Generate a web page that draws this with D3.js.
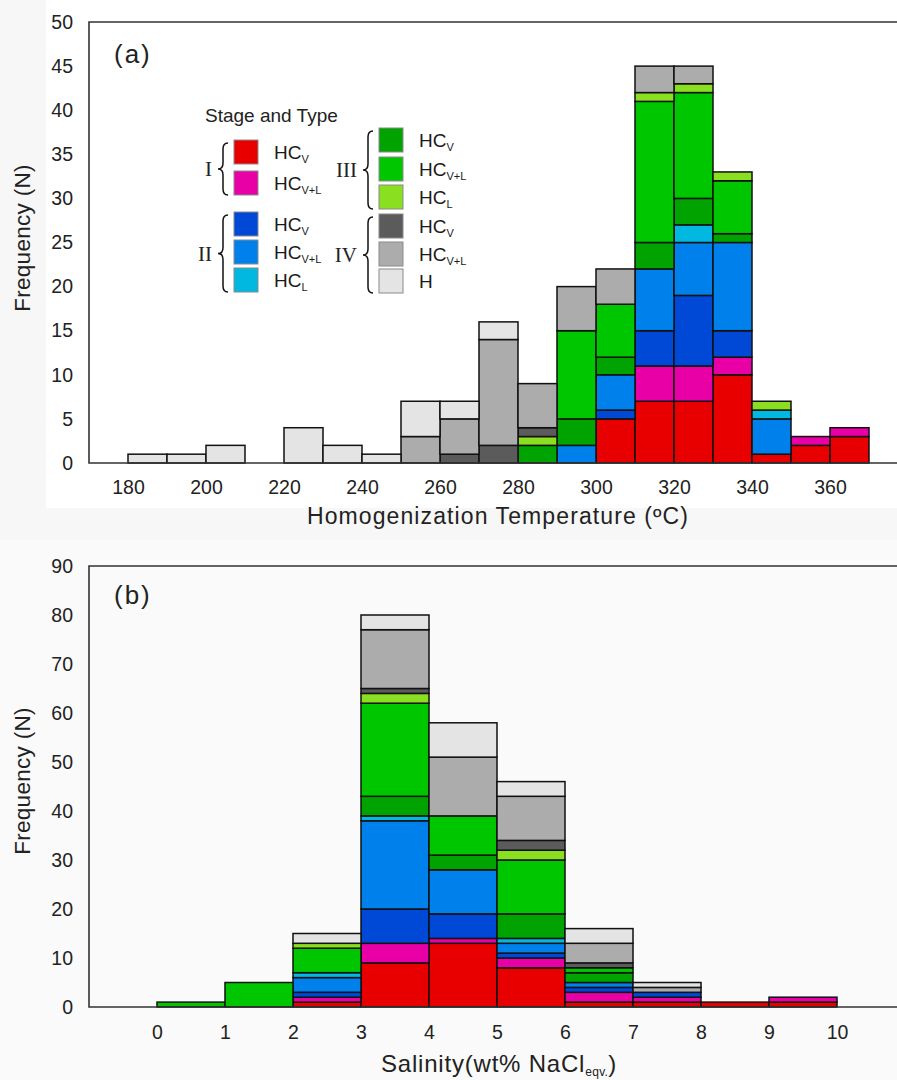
<!DOCTYPE html>
<html><head><meta charset="utf-8">
<script src="https://cdn.jsdelivr.net/npm/d3@7"></script>
<style>
html,body{margin:0;padding:0;background:#f7f7f7;}
svg{display:block;font-family:"Liberation Sans",Arial,sans-serif;}
</style></head><body>
<svg id="chart" width="897" height="1080"></svg>
<script>
// ---------- data ----------
const seriesKeys   = ["I_HCv","I_HCvL","II_HCv","II_HCvL","II_HCL","III_HCv","III_HCvL","III_HCL","IV_HCv","IV_HCvL","IV_H"];
const seriesStage  = ["I","I","II","II","II","III","III","III","IV","IV","IV"];
const seriesType   = ["V","V+L","V","V+L","L","V","V+L","L","V","V+L","H"];
const seriesColors = ["#e80000","#e800a6","#0049d6","#0080ea","#00b8e0","#00a300","#00c600","#8ae020","#5b5b5b","#acacac","#e4e4e4"];

// (a) homogenization temperature, bins of 10 °C (start value)
const tempBins = [180,190,200,210,220,230,240,250,260,270,280,290,300,310,320,330,340,350,360];
const tempBinWidth = 10;
const temp_I_HCv    = [0,0,0,0,0,0,0,0,0,0,0,0,5,7,7,10,1,2,3];
const temp_I_HCvL   = [0,0,0,0,0,0,0,0,0,0,0,0,0,4,4,2,0,1,1];
const temp_II_HCv   = [0,0,0,0,0,0,0,0,0,0,0,0,1,4,8,3,0,0,0];
const temp_II_HCvL  = [0,0,0,0,0,0,0,0,0,0,0,2,4,7,6,10,4,0,0];
const temp_II_HCL   = [0,0,0,0,0,0,0,0,0,0,0,0,0,0,2,0,1,0,0];
const temp_III_HCv  = [0,0,0,0,0,0,0,0,0,0,2,3,2,3,3,1,0,0,0];
const temp_III_HCvL = [0,0,0,0,0,0,0,0,0,0,0,10,6,16,12,6,0,0,0];
const temp_III_HCL  = [0,0,0,0,0,0,0,0,0,0,1,0,0,1,1,1,1,0,0];
const temp_IV_HCv   = [0,0,0,0,0,0,0,0,1,2,1,0,0,0,0,0,0,0,0];
const temp_IV_HCvL  = [0,0,0,0,0,0,0,3,4,12,5,5,4,3,2,0,0,0,0];
const temp_IV_H     = [1,1,2,0,4,2,1,4,2,2,0,0,0,0,0,0,0,0,0];
const tempTicks = [180,200,220,240,260,280,300,320,340,360];
const tempYTicks = [0,5,10,15,20,25,30,35,40,45,50];

// (b) salinity, bins of 1 wt% (start value)
const salBins = [0,1,2,3,4,5,6,7,8,9];
const salBinWidth = 1;
const sal_I_HCv    = [0,0,1,9,13,8,1,1,1,1];
const sal_I_HCvL   = [0,0,1,4,1,2,2,1,0,1];
const sal_II_HCv   = [0,0,1,7,5,1,1,1,0,0];
const sal_II_HCvL  = [0,0,3,18,9,2,1,0,0,0];
const sal_II_HCL   = [0,0,1,1,0,1,0,0,0,0];
const sal_III_HCv  = [0,0,0,4,3,5,2,0,0,0];
const sal_III_HCvL = [1,5,5,19,8,11,1,0,0,0];
const sal_III_HCL  = [0,0,1,2,0,2,0,0,0,0];
const sal_IV_HCv   = [0,0,0,1,0,2,1,0,0,0];
const sal_IV_HCvL  = [0,0,0,12,12,9,4,1,0,0];
const sal_IV_H     = [0,0,2,3,7,3,3,1,0,0];
const salTicks = [0,1,2,3,4,5,6,7,8,9,10];
const salYTicks = [0,10,20,30,40,50,60,70,80,90];

// ---------- build tables ----------
const tempSeries = [temp_I_HCv,temp_I_HCvL,temp_II_HCv,temp_II_HCvL,temp_II_HCL,temp_III_HCv,temp_III_HCvL,temp_III_HCL,temp_IV_HCv,temp_IV_HCvL,temp_IV_H];
const salSeries  = [sal_I_HCv,sal_I_HCvL,sal_II_HCv,sal_II_HCvL,sal_II_HCL,sal_III_HCv,sal_III_HCvL,sal_III_HCL,sal_IV_HCv,sal_IV_HCvL,sal_IV_H];
function buildRows(bins, width, series){
  return bins.map((b,i)=>{
    const r = {x0:b, x1:b+width};
    seriesKeys.forEach((k,j)=>{ r[k] = series[j][i]; });
    return r;
  });
}
const tempRows = buildRows(tempBins, tempBinWidth, tempSeries);
const salRows  = buildRows(salBins, salBinWidth, salSeries);
const color = d3.scaleOrdinal().domain(seriesKeys).range(seriesColors);

const svg = d3.select("#chart");
svg.append("rect").attr("x",46).attr("y",0).attr("width",851).attr("height",508).attr("fill","#ffffff");
svg.append("rect").attr("x",0).attr("y",540).attr("width",897).attr("height",540).attr("fill","#fafafa");

function drawPanel(o){
  const g = svg.append("g");
  const stack = d3.stack().keys(seriesKeys)(o.rows);
  stack.forEach(layer=>{
    g.append("g").selectAll("rect")
      .data(layer.filter(d=>d[1]-d[0]>0))
      .join("rect")
      .attr("x",d=>o.x(d.data.x0))
      .attr("width",d=>o.x(d.data.x1)-o.x(d.data.x0))
      .attr("y",d=>o.y(d[1]))
      .attr("height",d=>o.y(d[0])-o.y(d[1]))
      .attr("fill",color(layer.key))
      .attr("stroke","#111")
      .attr("stroke-width",1.5);
  });
  // frame
  const [xl,xr] = o.x.range(), [yb,yt] = o.y.range();
  g.append("path").attr("d",`M${xr},${yt}H${xl}V${yb}H${xr}`)
    .attr("fill","none").attr("stroke","#333").attr("stroke-width",1.6);
  // axes
  const ax = g.append("g").attr("transform",`translate(0,${yb})`)
    .call(d3.axisBottom(o.x).tickValues(o.xTicks).tickSize(0).tickPadding(o.xPad).tickFormat(d3.format("d")));
  ax.select(".domain").remove();
  ax.selectAll("text").attr("font-size",19.5).attr("fill","#222").attr("font-family","Liberation Sans, Arial, sans-serif");
  const ay = g.append("g").attr("transform",`translate(${xl},0)`)
    .call(d3.axisLeft(o.y).tickValues(o.yTicks).tickSize(0).tickPadding(16).tickFormat(d3.format("d")));
  ay.select(".domain").remove();
  ay.selectAll("text").attr("font-size",19.5).attr("fill","#222").attr("font-family","Liberation Sans, Arial, sans-serif");
  // y title
  svg.append("text").attr("transform",`translate(30,${o.yTitleY}) rotate(-90)`)
    .attr("text-anchor","middle").attr("font-size",22.5).attr("letter-spacing",0.3).attr("fill","#222").text("Frequency (N)");
  // panel label
  svg.append("text").attr("x",114).attr("y",o.labelY).attr("font-size",26).attr("letter-spacing",2)
    .attr("fill","#222").text(o.label);
}

const xA = d3.scaleLinear().domain([170,380]).range([89,908]);
const yA = d3.scaleLinear().domain([0,50]).range([463,22]);
drawPanel({rows:tempRows,x:xA,y:yA,xTicks:tempTicks,yTicks:tempYTicks,xPad:17,yTitleY:238,label:"(a)",labelY:63});
svg.append("text").attr("x",498).attr("y",524).attr("text-anchor","middle").attr("font-size",23).attr("letter-spacing",1.1).attr("fill","#222")
  .text("Homogenization Temperature (ºC)");

const xB = d3.scaleLinear().domain([-1,11]).range([89,905]);
const yB = d3.scaleLinear().domain([0,90]).range([1007,566]);
drawPanel({rows:salRows,x:xB,y:yB,xTicks:salTicks,yTicks:salYTicks,xPad:18,yTitleY:781,label:"(b)",labelY:604});
const tb = svg.append("text").attr("x",499).attr("y",1072).attr("text-anchor","middle").attr("font-size",24).attr("letter-spacing",0.8).attr("fill","#222");
tb.append("tspan").text("Salinity(wt% NaCl");
tb.append("tspan").attr("font-size",12).attr("letter-spacing",0.3).attr("dy",4).text("eqv.");
tb.append("tspan").attr("dy",-4).text(")");

// ---------- legend ----------
const lg = svg.append("g");
lg.append("text").attr("x",205).attr("y",122).attr("font-size",19).attr("fill","#222").text("Stage and Type");
const legendCols = [
  {idx:[0,1,2,3,4], sx:234, tx:274, rows:[140,171,212,240,268]},
  {idx:[5,6,7,8,9,10], sx:379, tx:419, rows:[128,157,185,214,242,269]}
];
const swatch = 24;
legendCols.forEach(c=>{
  c.idx.forEach((si,r)=>{
    const top = c.rows[r];
    lg.append("rect").attr("x",c.sx).attr("y",top).attr("width",swatch).attr("height",swatch)
      .attr("fill",seriesColors[si]).attr("stroke","#8a8a8a").attr("stroke-width",1);
    const t = lg.append("text").attr("x",c.tx).attr("y",top+19).attr("font-size",19).attr("fill","#1a1a1a");
    if(seriesType[si]==="H"){ t.text("H"); }
    else {
      t.append("tspan").text("HC");
      t.append("tspan").attr("font-size",11).attr("dy",4).text(seriesType[si]);
    }
  });
});
// braces and stage numerals
function brace(x0,x1,y1,y2){
  const xm=(x0+x1)/2, ym=(y1+y2)/2, r=Math.min(6,(y2-y1)/6);
  return `M${x1},${y1}Q${xm},${y1} ${xm},${y1+r}L${xm},${ym-r}Q${xm},${ym} ${x0},${ym}`+
         `Q${xm},${ym} ${xm},${ym+r}L${xm},${y2-r}Q${xm},${y2} ${x1},${y2}`;
}
const stages = ["I","II","III","IV"];
stages.forEach(st=>{
  const members = seriesKeys.map((k,i)=>i).filter(i=>seriesStage[i]===st);
  const col = legendCols.find(c=>c.idx.includes(members[0]));
  const tops = members.map(i=>col.rows[col.idx.indexOf(i)]);
  const y1 = d3.min(tops)+3, y2 = d3.max(tops)+swatch;
  const bx0 = col.sx-16, bx1 = col.sx-6;
  lg.append("path").attr("d",brace(bx0,bx1,y1,y2)).attr("fill","none").attr("stroke","#111").attr("stroke-width",1.5);
  lg.append("text").attr("x",bx0-6).attr("y",(y1+y2)/2+7).attr("text-anchor","end")
    .attr("font-family","Liberation Serif, Times New Roman, serif").attr("font-size",21).attr("fill","#222").text(st);
});
</script>
</body></html>
